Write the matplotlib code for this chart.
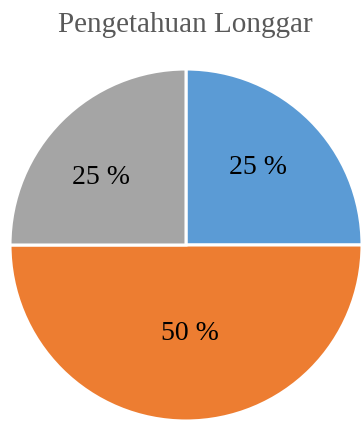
import matplotlib.pyplot as plt

# share of answers per category
labels = ["Tinggi", "Sedang", "Rendah"]
values = [25, 50, 25]
colours = ["#5B9BD5", "#ED7D31", "#A5A5A5"]

plt.rcParams['font.family'] = ['Liberation Serif', 'DejaVu Serif']

fig = plt.figure(figsize=(3.62, 4.22), dpi=100)
ax = fig.add_axes([0, 0, 1, 1])

wedges, texts, autotexts = ax.pie(
    values, colors=colours, startangle=90, counterclock=False,
    center=(186, 177), radius=176, frame=True,
    autopct=lambda p: f"{p:.0f} %", pctdistance=0.58,
    wedgeprops=dict(edgecolor='white', linewidth=2.2),
    textprops=dict(fontsize=20, color='black'))

# data labels sit where the spreadsheet put them, not on a fixed radius
label_pos = [(258, 254), (190, 88), (101, 245)]
for t, (x, y) in zip(autotexts, label_pos):
    t.set_position((x, y))

ax.set_xlim(0, 362)
ax.set_ylim(0, 422)
ax.set_aspect('equal')
ax.axis('off')

fig.text(0.512, 0.94, "Pengetahuan Longgar", ha='center', va='center',
         fontsize=21, color='#595959')

fig.savefig("out.png", dpi=100)
